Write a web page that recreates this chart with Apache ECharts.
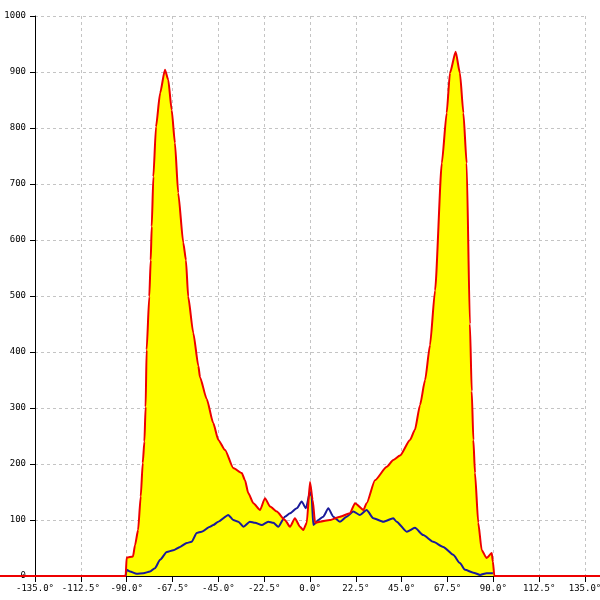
<!DOCTYPE html>
<html>
<head>
<meta charset="utf-8">
<script src="https://cdn.jsdelivr.net/npm/echarts@6/dist/echarts.min.js"></script>
<style>html,body{margin:0;padding:0;background:#fff}#c{width:600px;height:600px}</style>
</head>
<body>
<div id="c"></div>
<script>
// Tick settings
var xTickMin = -135, xTickMax = 135, xTickStep = 22.5;
var yTickMin = 0, yTickMax = 1000, yTickStep = 100;

// Red (filled) curve
var redDeg = [-180, -90.5, -90.0, -86.9, -85.9, -84.4, -83.1, -82.1, -81.3, -80.7, -80.2, -78.9, -78.2, -77.7, -76.9, -75.6, -73.6, -71.2, -69.6, -67.9, -66.3, -64.7, -62.2, -60.9, -59.8, -57.3, -54.8, -54.0, -50.7, -47.5, -45.0, -41.7, -37.7, -33.5, -31.9, -30.3, -27.8, -24.5, -22.1, -19.6, -16.3, -12.3, -9.8, -7.4, -4.9, -3.3, -1.6, 0.0, 1.3, 2.5, 4.9, 9.8, 14.7, 19.6, 22.1, 26.2, 27.8, 31.9, 37.7, 40.9, 44.2, 49.1, 51.5, 54.0, 56.5, 58.9, 61.4, 64.7, 67.1, 68.7, 71.5, 73.6, 75.3, 76.9, 78.5, 79.4, 80.2, 81.0, 82.6, 84.3, 86.7, 89.2, 89.8, 90.5, 180];
var redVal = [0, 0, 33, 35, 55, 82, 142, 202, 240, 302, 404, 499, 564, 624, 713, 802, 862, 904, 886, 832, 773, 684, 595, 564, 499, 434, 375, 355, 316, 273, 243, 225, 193, 184, 171, 148, 130, 118, 139, 124, 115, 100, 88, 103, 88, 82, 95, 168, 136, 95, 97, 100, 106, 112, 130, 118, 130, 171, 195, 207, 215, 243, 261, 305, 350, 412, 510, 737, 827, 898, 936, 898, 827, 737, 450, 330, 243, 184, 95, 46, 32, 41, 25, 0, 0];

// Blue curve
var blueDeg = [-90.5, -90.0, -88.4, -85.1, -81.8, -78.5, -76.1, -73.6, -70.3, -67.1, -63.8, -60.5, -58.1, -55.6, -53.2, -49.1, -47.5, -45.0, -40.1, -37.7, -35.2, -32.7, -29.5, -27.0, -23.7, -20.5, -18.0, -15.6, -12.3, -9.8, -6.5, -4.1, -2.0, 0.0, 0.8, 1.6, 4.1, 6.5, 9.0, 11.4, 14.7, 18.0, 21.3, 24.5, 27.8, 31.1, 36.0, 40.9, 42.5, 47.5, 51.5, 55.6, 60.5, 65.4, 70.3, 73.6, 76.1, 80.2, 83.5, 86.7, 89.2, 89.8];
var blueVal = [0, 11, 8, 4, 5, 8, 14, 29, 43, 46, 52, 59, 61, 77, 79, 88, 91, 97, 109, 100, 97, 88, 97, 95, 91, 97, 95, 88, 106, 112, 121, 133, 121, 150, 142, 91, 100, 106, 121, 106, 97, 106, 115, 109, 118, 103, 97, 103, 97, 79, 86, 73, 61, 52, 38, 23, 11, 6, 2, 5, 5, 5];

function zip(a, b) { return a.map(function (v, i) { return [v, b[i]]; }); }
var redData = zip(redDeg, redVal);
var blueData = zip(blueDeg, blueVal);

// Layout
var W = 600, gL = 35, gR = 15, gT = 16, gB = 24;
var degPerPx = (xTickMax - xTickMin) / (W - gL - gR);
// Full-width overlay axis with the same scale, so the zero line runs to the canvas edges
var fullMin = xTickMin - gL * degPerPx, fullMax = xTickMax + gR * degPerPx;

var labelFont = { fontFamily: 'DejaVu Sans Mono', fontSize: 9, color: '#000' };
var gridLine = { show: true, lineStyle: { color: '#c4c4c4', type: [3, 3], width: 1 } };
var chart = echarts.init(document.getElementById('c'), null, { renderer: 'canvas' });
chart.setOption({
  animation: false,
  backgroundColor: '#fff',
  grid: [
    { left: gL, right: gR, top: gT, bottom: gB, containLabel: false, outerBoundsMode: 'none' },
    { left: 0, right: 0, top: gT, bottom: gB, containLabel: false, outerBoundsMode: 'none' }
  ],
  xAxis: [{
    gridIndex: 0, type: 'value', min: xTickMin, max: xTickMax, interval: xTickStep,
    axisLine: { onZero: false, lineStyle: { color: '#000', width: 1 } },
    axisTick: { show: true, length: 6, lineStyle: { color: '#000' } },
    axisLabel: Object.assign({ margin: 8, hideOverlap: false, showMinLabel: true, showMaxLabel: true,
      formatter: function (v) { return v.toFixed(1) + '°'; } }, labelFont),
    splitLine: gridLine
  }, {
    gridIndex: 1, type: 'value', min: fullMin, max: fullMax, show: false,
    splitLine: { show: false }
  }],
  yAxis: [{
    gridIndex: 0, type: 'value', min: yTickMin, max: yTickMax, interval: yTickStep,
    axisLine: { show: true, onZero: false, lineStyle: { color: '#000', width: 1 } },
    axisTick: { show: true, inside: false, length: 5, lineStyle: { color: '#000' } },
    axisLabel: Object.assign({ margin: 9, formatter: function (v) { return String(v); } }, labelFont),
    splitLine: gridLine
  }, {
    gridIndex: 1, type: 'value', min: yTickMin, max: yTickMax, show: false,
    splitLine: { show: false }
  }],
  series: [
    {
      type: 'line', xAxisIndex: 1, yAxisIndex: 1, data: redData, showSymbol: false, clip: false, smooth: 0.2, smoothMonotone: 'x',
      lineStyle: { width: 0, opacity: 0 }, areaStyle: { color: '#ffff00', opacity: 1 }, z: 2
    },
    {
      type: 'line', xAxisIndex: 1, yAxisIndex: 1, data: blueData, showSymbol: false, clip: false, smooth: 0.2, smoothMonotone: 'x',
      lineStyle: { color: '#1a1a9a', width: 2 }, z: 3
    },
    {
      type: 'line', xAxisIndex: 1, yAxisIndex: 1, data: redData, showSymbol: false, clip: false, smooth: 0.2, smoothMonotone: 'x',
      lineStyle: { color: '#ee0000', width: 2 }, z: 4
    }
  ]
});
</script>
</body>
</html>
